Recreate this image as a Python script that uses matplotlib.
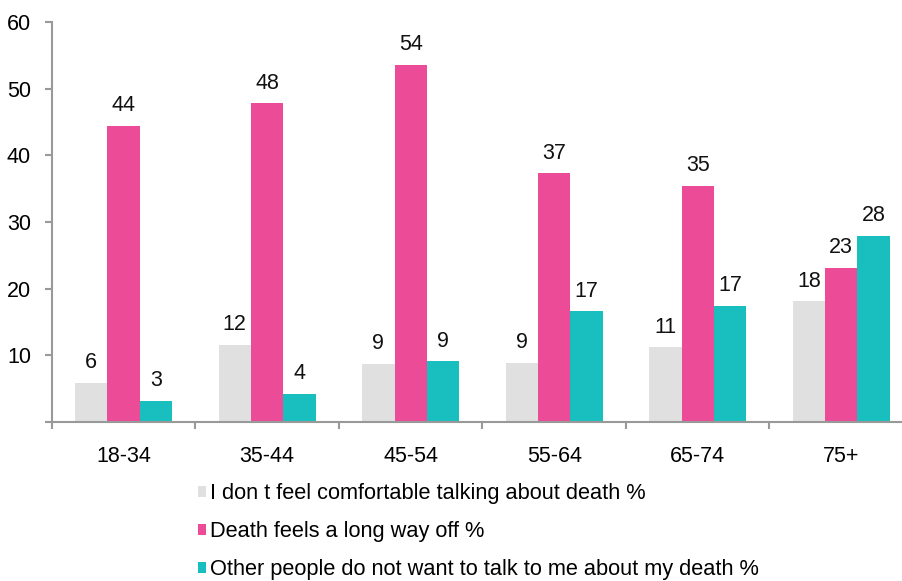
import numpy as np
import matplotlib
matplotlib.use("Agg")
import matplotlib.pyplot as plt

plt.rcParams['font.family'] = ['Liberation Sans', 'DejaVu Sans']

groups = ['18-34', '35-44', '45-54', '55-64', '65-74', '75+']
uncomfortable = [5.85, 11.6, 8.7, 8.85, 11.2, 18.1]
long_way_off = [44.4, 47.8, 53.6, 37.3, 35.4, 23.1]
others_dont = [3.15, 4.2, 9.1, 16.6, 17.4, 27.9]

series = [
    ("I don t feel comfortable talking about death %", uncomfortable, '#e0e0e0'),
    ("Death feels a long way off %", long_way_off, '#ec4b97'),
    ("Other people do not want to talk to me about my death %", others_dont, '#19bfbe'),
]

fs = 15.5

fig = plt.figure(figsize=(9.02, 5.81), dpi=100)
ax = fig.add_axes([0.0576, 0.2737, 1.0122 - 0.0576, 0.962 - 0.2737])

x = np.arange(len(groups))
w = 0.226
for i, (name, vals, col) in enumerate(series):
    pos = x + (i - 1) * w
    bars = ax.bar(pos, vals, w, color=col, label=name, zorder=2)
    for b, v in zip(bars, vals):
        ax.annotate('%.0f' % v, (b.get_x() + b.get_width() / 2, v),
                    xytext=(0, 7), textcoords='offset points',
                    ha='center', va='bottom', fontsize=fs, color='#111111')

ax.set_xlim(-0.5, len(groups) - 0.5)
ax.set_ylim(0, 60)
ax.set_yticks(range(0, 61, 10))
ax.set_yticklabels([''] + [str(v) for v in range(10, 61, 10)])
ax.set_xticks(x)
ax.set_xticklabels(groups)
ax.set_xticks(np.arange(-0.5, len(groups)), minor=True)
ax.tick_params(axis='x', which='major', length=0, pad=17, labelsize=fs)
ax.tick_params(axis='x', which='minor', length=5, width=1.5, color='#999999')
ax.tick_params(axis='y', length=5, width=1.5, color='#999999', pad=10, labelsize=fs)

for s in ['top', 'right']:
    ax.spines[s].set_visible(False)
for s in ['left', 'bottom']:
    ax.spines[s].set_color('#999999')
    ax.spines[s].set_linewidth(1.5)

fig.legend(loc='upper left', bbox_to_anchor=(0.2195, 0.168), frameon=False,
           fontsize=15.7, handlelength=0.37, handleheight=0.37,
           handletextpad=0.19, labelspacing=0.78, borderpad=0, borderaxespad=0)

fig.savefig('out.png', dpi=100)
